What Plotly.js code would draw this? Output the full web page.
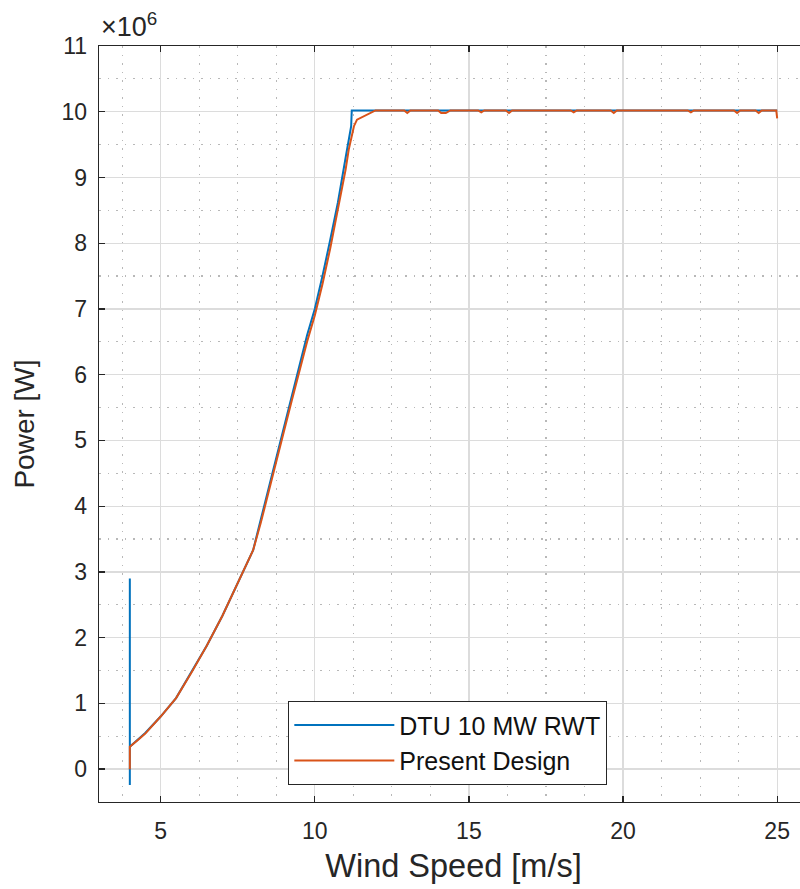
<!DOCTYPE html>
<html>
<head>
<meta charset="utf-8">
<script src="https://cdn.plot.ly/plotly-3.0.1.min.js"></script>
<style>
html,body{margin:0;padding:0;overflow:hidden;background:#fff;}
#chart{width:830px;height:889px;}
</style>
</head>
<body>
<div id="chart"></div>
<script>
// Wind speed [m/s] and power [x10^6 W]
const dtuWind = [4.0, 4.0, 4.0, 4.5, 5.0, 5.5, 6.0, 6.5, 7.0, 7.5, 8.0, 8.25, 8.5, 8.75, 9.0, 9.25, 9.5, 9.75, 10.0, 10.25, 10.5, 10.75, 11.0, 11.1, 11.18, 11.2, 15.0, 20.0, 25.0];
const dtuPower = [2.9, -0.24, 0.34, 0.55, 0.80, 1.08, 1.47, 1.88, 2.33, 2.82, 3.33, 3.8, 4.27, 4.75, 5.22, 5.69, 6.16, 6.6, 7.0, 7.5, 8.05, 8.62, 9.3, 9.6, 9.78, 10.02, 10.02, 10.02, 10.02];

const presentWind = [4.0, 4.0, 4.3, 4.5, 5.0, 5.5, 6.0, 6.5, 7.0, 7.5, 8.0, 8.25, 8.5, 8.75, 9.0, 9.25, 9.5, 9.75, 10.0, 10.25, 10.5, 10.75, 11.0, 11.1, 11.2, 11.27, 11.37, 11.55, 11.7, 11.97,
  12.9, 13.0, 13.1, 14.0, 14.1, 14.25, 14.4, 15.3, 15.4, 15.5, 16.2, 16.3, 16.4, 18.3, 18.4, 18.5, 19.6, 19.7, 19.8, 22.1, 22.2, 22.3, 23.6, 23.7, 23.8, 24.3, 24.4, 24.5, 24.97, 25.0];
const presentPower = [0.0, 0.34, 0.46, 0.54, 0.80, 1.08, 1.47, 1.88, 2.33, 2.82, 3.33, 3.75, 4.2, 4.67, 5.14, 5.6, 6.07, 6.5, 6.9, 7.38, 7.92, 8.5, 9.12, 9.42, 9.65, 9.78, 9.88, 9.92, 9.96, 10.02,
  10.02, 9.98, 10.02, 10.02, 9.98, 9.98, 10.02, 10.02, 9.99, 10.02, 10.02, 9.98, 10.02, 10.02, 9.99, 10.02, 10.02, 9.98, 10.02, 10.02, 9.99, 10.02, 10.02, 9.98, 10.02, 10.02, 9.98, 10.02, 10.02, 9.9];

const seriesNames = ["DTU 10 MW RWT", "Present Design"];
const xTicks = [5, 10, 15, 20, 25];
const yTicks = [0, 1, 2, 3, 4, 5, 6, 7, 8, 9, 10, 11];

const txt = '#262626';
const font = 'Liberation Sans, Arial, Helvetica, sans-serif';

const traces = [
  {x: dtuWind, y: dtuPower, name: seriesNames[0], type: 'scatter', mode: 'lines',
   line: {color: '#0072BD', width: 2}},
  {x: presentWind, y: presentPower, name: seriesNames[1], type: 'scatter', mode: 'lines',
   line: {color: '#D95319', width: 2}}
];

const axisCommon = {
  showline: true, linecolor: txt, linewidth: 1.3, mirror: 'allticks',
  ticks: 'inside', ticklen: 6, tickcolor: txt, tickwidth: 1.3,
  showgrid: true, gridcolor: '#dcdcdc', gridwidth: 1.3, zeroline: false,
  tickfont: {family: font, size: 23, color: txt}
};
const minorGrid = {showgrid: true, gridcolor: '#b8b8b8', griddash: '1.5px,7px', gridwidth: 1.2, ticks: ''};

const layout = {
  width: 830, height: 889,
  margin: {l: 99, r: 22, t: 46, b: 87},
  paper_bgcolor: '#fff', plot_bgcolor: '#fff',
  showlegend: true,
  legend: {
    x: 0.2666, y: 0.0225, xanchor: 'left', yanchor: 'bottom',
    bordercolor: txt, borderwidth: 1.3, bgcolor: '#fff',
    font: {family: font, size: 25, color: '#111'},
    itemwidth: 100, tracegroupgap: 0
  },
  xaxis: Object.assign({}, axisCommon, {
    range: [3, 26], tickvals: xTicks, ticktext: xTicks.map(String),
    ticklabelstandoff: 8,
    minor: Object.assign({dtick: 1.25, tick0: 5}, minorGrid),
    title: {text: 'Wind Speed [m/s]', font: {family: font, size: 32.5, color: txt}, standoff: 11}
  }),
  yaxis: Object.assign({}, axisCommon, {
    range: [-0.5, 11], tickvals: yTicks, ticktext: yTicks.map(String),
    ticklabelstandoff: 6,
    minor: Object.assign({dtick: 0.5, tick0: 0}, minorGrid),
    title: {text: 'Power [W]', font: {family: font, size: 28, color: txt}, standoff: 18}
  }),
  annotations: [{
    xref: 'paper', yref: 'paper', x: 0, y: 1, xanchor: 'left', yanchor: 'bottom', yshift: 2,
    showarrow: false, text: '×10<sup>6</sup>',
    font: {family: font, size: 27, color: txt}
  }]
};

Plotly.newPlot('chart', traces, layout, {displayModeBar: false, staticPlot: true});
</script>
</body>
</html>
